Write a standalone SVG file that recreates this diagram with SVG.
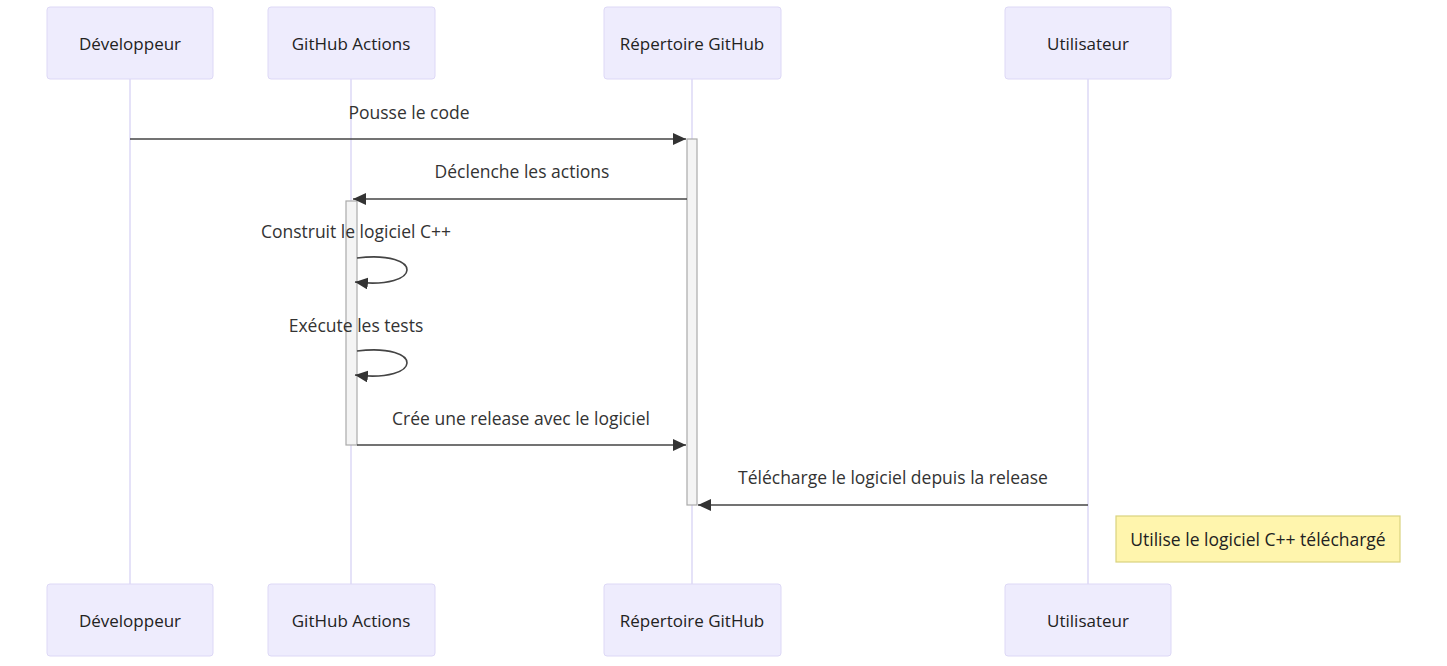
<svg xmlns="http://www.w3.org/2000/svg" width="1447" height="666" viewBox="0 0 1447 666">
<defs>
<marker id="arrow" markerUnits="userSpaceOnUse" markerWidth="14" markerHeight="12" viewBox="0 0 14 12" refX="13" refY="6" orient="auto">
<path d="M0,0 L13,6 L0,12 z" fill="#333"/>
</marker>
</defs>
<style>
.actor{fill:#eeecfd;stroke:#ddd8f6;stroke-width:1}
.life{stroke:#ddd8f6;stroke-width:1.5;fill:none}
.atext{font-family:"Open Sans","Liberation Sans",Arial,sans-serif;font-size:17px;fill:#222;text-anchor:middle;dominant-baseline:central}
.mtext{font-family:"Open Sans","Liberation Sans",Arial,sans-serif;font-size:17.5px;fill:#333;text-anchor:middle;dominant-baseline:central}
.msg{stroke:#444;stroke-width:1.6;fill:none;marker-end:url(#arrow)}
.act{fill:#f4f4f4;stroke:#aaa;stroke-width:1.2}
.note{fill:#fff5ad;stroke:#d9d27f;stroke-width:1.2}
</style>
<g id="lifelines">
<line class="life" x1="130" y1="79" x2="130" y2="584"/>
<line class="life" x1="351" y1="79" x2="351" y2="584"/>
<line class="life" x1="692" y1="79" x2="692" y2="584"/>
<line class="life" x1="1088" y1="79" x2="1088" y2="584"/>
</g>
<g id="actor-dev-top"><rect class="actor" x="47" y="7" width="166" height="72" rx="3"/><text class="atext" x="130" y="43">Développeur</text></g>
<g id="actor-gha-top"><rect class="actor" x="268" y="7" width="167" height="72" rx="3"/><text class="atext" x="351" y="43">GitHub Actions</text></g>
<g id="actor-repo-top"><rect class="actor" x="604" y="7" width="177" height="72" rx="3"/><text class="atext" x="692" y="43">Répertoire GitHub</text></g>
<g id="actor-user-top"><rect class="actor" x="1005" y="7" width="166" height="72" rx="3"/><text class="atext" x="1088" y="43">Utilisateur</text></g>
<g id="actor-dev-bottom"><rect class="actor" x="47" y="584" width="166" height="72" rx="3"/><text class="atext" x="130" y="620">Développeur</text></g>
<g id="actor-gha-bottom"><rect class="actor" x="268" y="584" width="167" height="72" rx="3"/><text class="atext" x="351" y="620">GitHub Actions</text></g>
<g id="actor-repo-bottom"><rect class="actor" x="604" y="584" width="177" height="72" rx="3"/><text class="atext" x="692" y="620">Répertoire GitHub</text></g>
<g id="actor-user-bottom"><rect class="actor" x="1005" y="584" width="166" height="72" rx="3"/><text class="atext" x="1088" y="620">Utilisateur</text></g>
<g id="activations">
<rect class="act" x="687" y="139" width="10" height="366"/>
<rect class="act" x="346" y="201" width="11" height="244"/>
</g>
<g id="connectors">
<line class="msg" x1="130" y1="139" x2="686" y2="139"/>
<text class="mtext" x="409" y="112">Pousse le code</text>
<line class="msg" x1="687" y1="199" x2="353" y2="199"/>
<text class="mtext" x="522" y="171">Déclenche les actions</text>
<path class="msg" d="M357,258 C424,250 424,290 355,282"/>
<text class="mtext" x="356" y="231">Construit le logiciel C++</text>
<path class="msg" d="M357,351 C424,343 424,383 355,375"/>
<text class="mtext" x="356" y="325">Exécute les tests</text>
<line class="msg" x1="357" y1="445" x2="686" y2="445"/>
<text class="mtext" x="521" y="418">Crée une release avec le logiciel</text>
<line class="msg" x1="1088" y1="505" x2="698" y2="505"/>
<text class="mtext" x="893" y="477">Télécharge le logiciel depuis la release</text>
</g>
<g id="note">
<rect class="note" x="1116" y="516" width="284" height="46"/>
<text class="mtext" x="1258" y="539" style="fill:#222">Utilise le logiciel C++ téléchargé</text>
</g>
</svg>
